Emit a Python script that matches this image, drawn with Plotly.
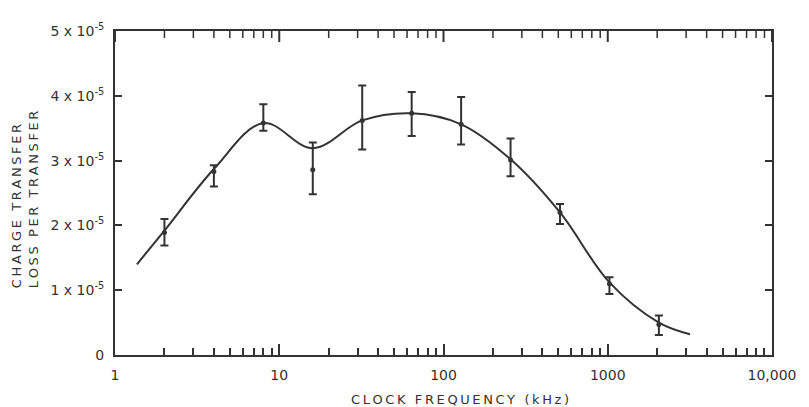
import plotly.graph_objects as go

# Measured charge-transfer loss vs. clock frequency
freq_khz = [2, 4, 8, 16, 32, 64, 128, 256, 512, 1024, 2048]
loss = [1.89e-5, 2.83e-5, 3.58e-5, 2.86e-5, 3.62e-5, 3.73e-5, 3.56e-5, 3.01e-5, 2.20e-5, 1.10e-5, 0.47e-5]
err_up = [0.21e-5, 0.10e-5, 0.29e-5, 0.42e-5, 0.54e-5, 0.33e-5, 0.42e-5, 0.33e-5, 0.13e-5, 0.10e-5, 0.14e-5]
err_down = [0.20e-5, 0.23e-5, 0.12e-5, 0.38e-5, 0.45e-5, 0.35e-5, 0.31e-5, 0.25e-5, 0.18e-5, 0.16e-5, 0.16e-5]

# Hand-fitted trend curve
curve_freq = [1.36, 2, 4, 8, 16, 32, 64, 128, 256, 512, 1024, 2048, 3170]
curve_loss = [1.40e-5, 1.92e-5, 2.87e-5, 3.58e-5, 3.19e-5, 3.62e-5, 3.73e-5, 3.56e-5, 3.02e-5, 2.20e-5, 1.12e-5, 0.50e-5, 0.32e-5]

# Axis ticks
x_tick_vals = [1, 10, 100, 1000, 10000]
x_tick_text = ["1", "10", "100", "1000", "10,000"]
x_minor_vals = [m * 10 ** e for e in range(4) for m in range(2, 10)]
y_tick_vals = [0, 1e-5, 2e-5, 3e-5, 4e-5, 5e-5]
y_tick_text = ["0", "1 x 10<sup>-5</sup>", "2 x 10<sup>-5</sup>", "3 x 10<sup>-5</sup>",
               "4 x 10<sup>-5</sup>", "5 x 10<sup>-5</sup>"]

INK = "#333333"
FONT = "DejaVu Sans"


def spaced(s):
    return "\u2009".join(s)


fig = go.Figure()

fig.add_trace(go.Scatter(
    x=curve_freq, y=curve_loss, mode="lines",
    line=dict(color=INK, width=2, shape="spline", smoothing=1.0),
    hoverinfo="skip", showlegend=False,
))

fig.add_trace(go.Scatter(
    x=freq_khz, y=loss, mode="markers",
    marker=dict(color=INK, size=5),
    error_y=dict(type="data", symmetric=False, array=err_up, arrayminus=err_down,
                 color=INK, thickness=2, width=4),
    showlegend=False,
))

tick_font = dict(family=FONT, size=14, color=INK)
MAJOR_LEN, MINOR_LEN = 11, 7

fig.update_xaxes(
    type="log", range=[0, 4],
    tickmode="array", tickvals=x_tick_vals, ticktext=x_tick_text,
    ticks="inside", ticklen=MAJOR_LEN, tickwidth=2, tickcolor=INK,
    minor=dict(tickmode="array", tickvals=x_minor_vals, ticks="inside",
               ticklen=MINOR_LEN, tickwidth=1.5, tickcolor=INK, showgrid=False),
    showgrid=False, zeroline=False,
    showline=True, linecolor=INK, linewidth=2, mirror=True,
    ticklabelstandoff=6, tickfont=tick_font,
)
fig.update_yaxes(
    range=[0, 5e-5],
    tickmode="array", tickvals=y_tick_vals, ticktext=y_tick_text,
    ticks="inside", ticklen=7, tickwidth=1.5, tickcolor=INK,
    ticklabelstandoff=6, tickfont=tick_font,
    showline=True, linecolor=INK, linewidth=2, mirror="allticks",
    showgrid=False, zeroline=False,
)

# log ticks hanging down from the top frame edge
for vals, length, width in ((x_tick_vals, MAJOR_LEN, 2), (x_minor_vals, MINOR_LEN, 1.5)):
    for v in vals:
        fig.add_shape(
            type="line", xref="x", yref="paper",
            x0=v, x1=v, ysizemode="pixel", yanchor=1, y0=0, y1=-length,
            line=dict(color=INK, width=width), layer="above",
        )

fig.add_annotation(
    text=spaced("CHARGE TRANSFER") + "<br>" + spaced("LOSS PER TRANSFER"),
    xref="paper", yref="paper", x=-0.136, y=0.48,
    xanchor="center", yanchor="middle", textangle=-90, align="left",
    showarrow=False, font=dict(family=FONT, size=13, color=INK),
)
fig.add_annotation(
    text=spaced("CLOCK FREQUENCY (kHz)"),
    xref="paper", yref="paper", x=0.525, y=-0.136,
    xanchor="center", yanchor="middle",
    showarrow=False, font=dict(family=FONT, size=13, color=INK),
)

fig.update_layout(
    width=809, height=407,
    margin=dict(l=115, r=35, t=31, b=52),
    paper_bgcolor="white", plot_bgcolor="white",
    font=dict(family=FONT, color=INK),
)

fig.write_html("out.html")
